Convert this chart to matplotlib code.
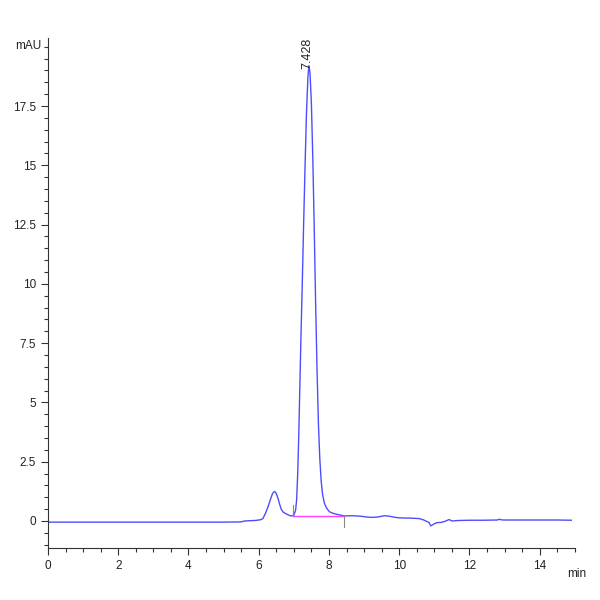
import matplotlib.pyplot as plt
from matplotlib.ticker import MultipleLocator

# retention time (min) and signal (mAU)
time = [0.0, 1.0, 2.0, 3.0, 4.0, 5.0, 5.5, 5.6, 5.9, 6.05, 6.12, 6.21, 6.27, 6.31,
        6.35, 6.39, 6.42, 6.45, 6.48, 6.51, 6.55, 6.59, 6.64, 6.69, 6.78, 6.86,
        6.92, 7.00, 7.05, 7.08, 7.11, 7.14, 7.17, 7.20, 7.24, 7.28, 7.32, 7.36,
        7.40, 7.428, 7.46, 7.50, 7.54, 7.58, 7.62, 7.66, 7.70, 7.74, 7.78, 7.82,
        7.87, 7.93, 8.01, 8.10, 8.25, 8.44, 8.67, 8.90, 9.05, 9.24, 9.40, 9.58,
        9.72, 9.85, 10.0, 10.3, 10.57, 10.7, 10.85, 10.9, 11.0, 11.08, 11.2,
        11.3, 11.42, 11.5, 11.7, 12.0, 12.4, 12.8, 12.84, 12.95, 13.5, 14.0,
        14.5, 14.9]
signal = [-0.05, -0.05, -0.05, -0.05, -0.05, -0.05, -0.04, 0.0, 0.02, 0.05, 0.1,
          0.38, 0.62, 0.8, 0.98, 1.14, 1.21, 1.24, 1.21, 1.12, 0.95, 0.73, 0.5,
          0.38, 0.3, 0.24, 0.21, 0.24, 0.45, 0.9, 2.0, 3.6, 5.6, 7.6, 10.0,
          12.6, 15.0, 17.2, 18.7, 19.2, 18.9, 17.6, 15.3, 12.4, 9.2, 6.4, 4.1,
          2.6, 1.65, 1.1, 0.75, 0.55, 0.39, 0.33, 0.27, 0.21, 0.22, 0.2, 0.17,
          0.15, 0.17, 0.22, 0.2, 0.16, 0.13, 0.12, 0.1, 0.04, -0.07, -0.21,
          -0.12, -0.07, -0.06, -0.02, 0.06, 0.0, 0.02, 0.03, 0.03, 0.04, 0.07,
          0.04, 0.04, 0.04, 0.04, 0.03]

peak_rt = 7.428
peak_height = 19.2
base_start = (6.97, 0.21)
base_end = (8.44, 0.21)

plt.rcParams['font.family'] = ['Liberation Sans Narrow', 'Liberation Sans', 'DejaVu Sans']

fig = plt.figure(figsize=(6, 6), dpi=100)
ax = fig.add_axes([0.08, 0.0867, 0.878, 0.85])

ax.plot(time, signal, color='#3a3aff', lw=1.0, alpha=0.9)
ax.plot([base_start[0], base_end[0]], [base_start[1], base_end[1]],
        color='#ff40ff', lw=1.0)
# baseline start / end markers
ax.plot([base_start[0]] * 2, [base_start[1], base_start[1] + 0.45], color='#888888', lw=0.8)
ax.plot([base_end[0]] * 2, [base_end[1], base_end[1] - 0.45], color='#888888', lw=0.8)

ax.text(peak_rt - 0.03, peak_height - 0.15, f'{peak_rt:.3f}', rotation=90,
        ha='center', va='bottom', fontsize=9, color='#222222')

ax.set_xlim(0, 15)
ax.set_ylim(-1.14, 20.37)
ax.xaxis.set_major_locator(MultipleLocator(2))
ax.xaxis.set_minor_locator(MultipleLocator(0.5))
ax.yaxis.set_minor_locator(MultipleLocator(0.5))
ax.set_yticks([0, 2.5, 5, 7.5, 10, 12.5, 15, 17.5])
ax.set_yticklabels(['0', '2.5', '5', '7.5', '10', '12.5', '15', '17.5'])

for side in ['top', 'right']:
    ax.spines[side].set_visible(False)
for side in ['left', 'bottom']:
    ax.spines[side].set_color('#333333')
    ax.spines[side].set_linewidth(0.8)

ax.tick_params(which='major', length=5, width=0.8, color='#333333',
               labelsize=8.5, labelcolor='#222222')
ax.tick_params(which='minor', length=3, width=0.8, color='#333333')

ax.text(-0.012, 0.985, 'mAU', transform=ax.transAxes, ha='right', va='center',
        fontsize=8.5, color='#222222')
ax.text(0.985, -0.04, 'min', transform=ax.transAxes, ha='left', va='top',
        fontsize=8.5, color='#222222')

fig.savefig('out.png', dpi=100)
